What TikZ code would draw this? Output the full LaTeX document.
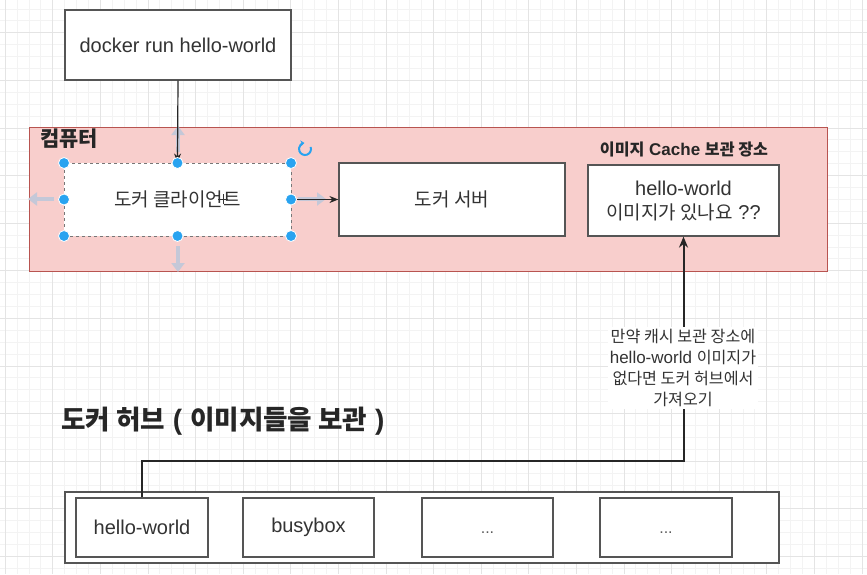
\documentclass[tikz,border=0pt]{standalone}
\usepackage{fontspec}
\setmainfont{Liberation Sans}
\newfontfamily\kr[Scale=0.95]{Noto Sans CJK KR}
\usetikzlibrary{arrows.meta}
\definecolor{pinkf}{HTML}{F8CECC}
\definecolor{pinkd}{HTML}{B85450}
\definecolor{gridmin}{HTML}{F3F3F3}
\definecolor{gridmaj}{HTML}{E4E4E4}
\definecolor{boxd}{HTML}{555555}
\definecolor{txt}{HTML}{333333}
\definecolor{handlec}{HTML}{29A3F0}
\definecolor{hintc}{HTML}{C4C8D8}
\tikzset{
  box/.style={draw=boxd, line width=1.2pt, fill=white, text=txt, font=\fontsize{20}{24}\selectfont, inner sep=0pt, align=center},
  dotsl/.style={text=txt!80, font=\fontsize{16}{20}\selectfont, text height=0pt, text depth=0pt, inner sep=0pt, yshift=-6pt},
  conn/.style={draw=black!85, line width=1.2pt, -{Stealth[length=9pt,width=7pt]}},
  conntwo/.style={draw=black!85, line width=2pt, -{Stealth[length=11pt,width=9pt]}},
  hint/.style={draw=hintc, line width=4pt, -{Triangle[length=9pt,width=13pt]}},
  handle/.style={circle, fill=handlec, draw=white, line width=0.8pt, minimum size=11pt, inner sep=0pt},
  title/.style={text=black!85, font=\bfseries, inner sep=0pt}
}
\begin{document}
\begin{tikzpicture}[x=1pt,y=-1pt]
\useasboundingbox (0,0) rectangle (867,574);
\fill[white] (0,0) rectangle (867,574);
% grid
\foreach \i in {0,...,73} {\draw[gridmin, line width=0.8pt] ({5.1+11.9*\i},0) -- ++(0,574);}
\foreach \i in {0,...,48} {\draw[gridmin, line width=0.8pt] (0,{8.9+11.9*\i}) -- ++(867,0);}
\foreach \i in {0,...,18} {\draw[gridmaj, line width=0.8pt] ({5.1+47.6*\i},0) -- ++(0,574);}
\foreach \i in {0,...,11} {\draw[gridmaj, line width=0.8pt] (0,{32.7+47.6*\i}) -- ++(867,0);}

% computer area
\node[draw=pinkd, fill=pinkf, line width=1pt, minimum width=798pt, minimum height=144pt, inner sep=0pt] (computer) at (428,199) {};
\node[title, anchor=west, font=\fontsize{22}{26}\selectfont\bfseries] (complabel) at (40,139) {\kr 컴퓨터};

\node[box, minimum width=226pt, minimum height=70pt] (run) at (178,45) {docker run hello-world};
\node[box, draw=boxd!80, dashed, line width=1pt, minimum width=227pt, minimum height=73pt] (client) at (177.5,199.5) {\kr 도커 클라이언트};
\node[box, minimum width=226pt, minimum height=73pt] (server) at (452,199.5) {\kr 도커 서버};
\node[title, font=\fontsize{17}{20}\selectfont\bfseries] (cachelabel) at (684,149) {{\kr 이미지} Cache {\kr 보관 장소}};
\node[box, minimum width=191pt, minimum height=71pt] (cache) at (683.5,200.5) {hello-world\\{\kr 이미지가 있나요} ??};

% docker hub
\node[title, anchor=west, font=\fontsize{28}{32}\selectfont\bfseries] (hubtitle) at (61,421) {{\kr 도커 허브} ( {\kr 이미지들을 보관} )};
\node[box, minimum width=714pt, minimum height=71pt] (hub) at (422,527.5) {};
\node[box, minimum width=132pt, minimum height=59pt] (h1) at (142,527.5) {hello-world};
\node[box, minimum width=131pt, minimum height=59pt] (h2) at (308.5,527.5) {busybox};
\node[box, minimum width=131pt, minimum height=59pt, label={[dotsl]center:...}] (h3) at (487.5,527.5) {};
\node[box, minimum width=132pt, minimum height=59pt, label={[dotsl]center:...}] (h4) at (666,527.5) {};

% hint arrows (editor UI)
\coordinate (hl0) at (54,199); \coordinate (hl1) at (28,199);
\coordinate (ht0) at (178,152); \coordinate (ht1) at (178,126);
\coordinate (hb0) at (178,246); \coordinate (hb1) at (178,272);
\coordinate (hr0) at (298,199); \coordinate (hr1) at (326,199);
\draw[hint] (hl0) -- (hl1);
\draw[hint] (ht0) -- (ht1);
\draw[hint] (hb0) -- (hb1);
\draw[hint] (hr0) -- (hr1);

% connectors
\draw[conn] (run.south) -- (client.north);
\draw[conn] (client.east) -- (server.west);
\coordinate (bend) at (683.5,461);
\draw[conntwo] (h1.north) |- (bend) -- (cache.south);
\node[fill=white, text=txt, align=center, inner sep=2pt, font=\fontsize{17}{21}\selectfont] (note) at (683,368)
  {{\kr 만약 캐시 보관 장소에}\\hello-world {\kr 이미지가}\\{\kr 없다면 도커 허브에서}\\{\kr 가져오기}};

% selection handles
\foreach \p/\n in {{(64,163)}/a,{(177.5,163)}/b,{(291,163)}/c,{(64,199.5)}/d,{(291,199.5)}/e,{(64,236)}/f,{(177.5,236)}/g,{(291,236)}/h}
  {\node[handle] (hd\n) at \p {};}
% rotate icon
\coordinate (rot) at (305,149);
\draw[handlec, line width=2pt, -{Stealth[length=4pt,width=6pt]}] ([shift={(-20:6)}]rot) arc[start angle=-20, end angle=265, radius=6];
% cursor cross
\coordinate (cur) at (223,199);
\draw[black!80, line width=0.9pt] ([xshift=-5pt]cur) -- ([xshift=5pt]cur);
\draw[black!80, line width=0.9pt] ([yshift=-5pt]cur) -- ([yshift=5pt]cur);
\end{tikzpicture}
\end{document}
